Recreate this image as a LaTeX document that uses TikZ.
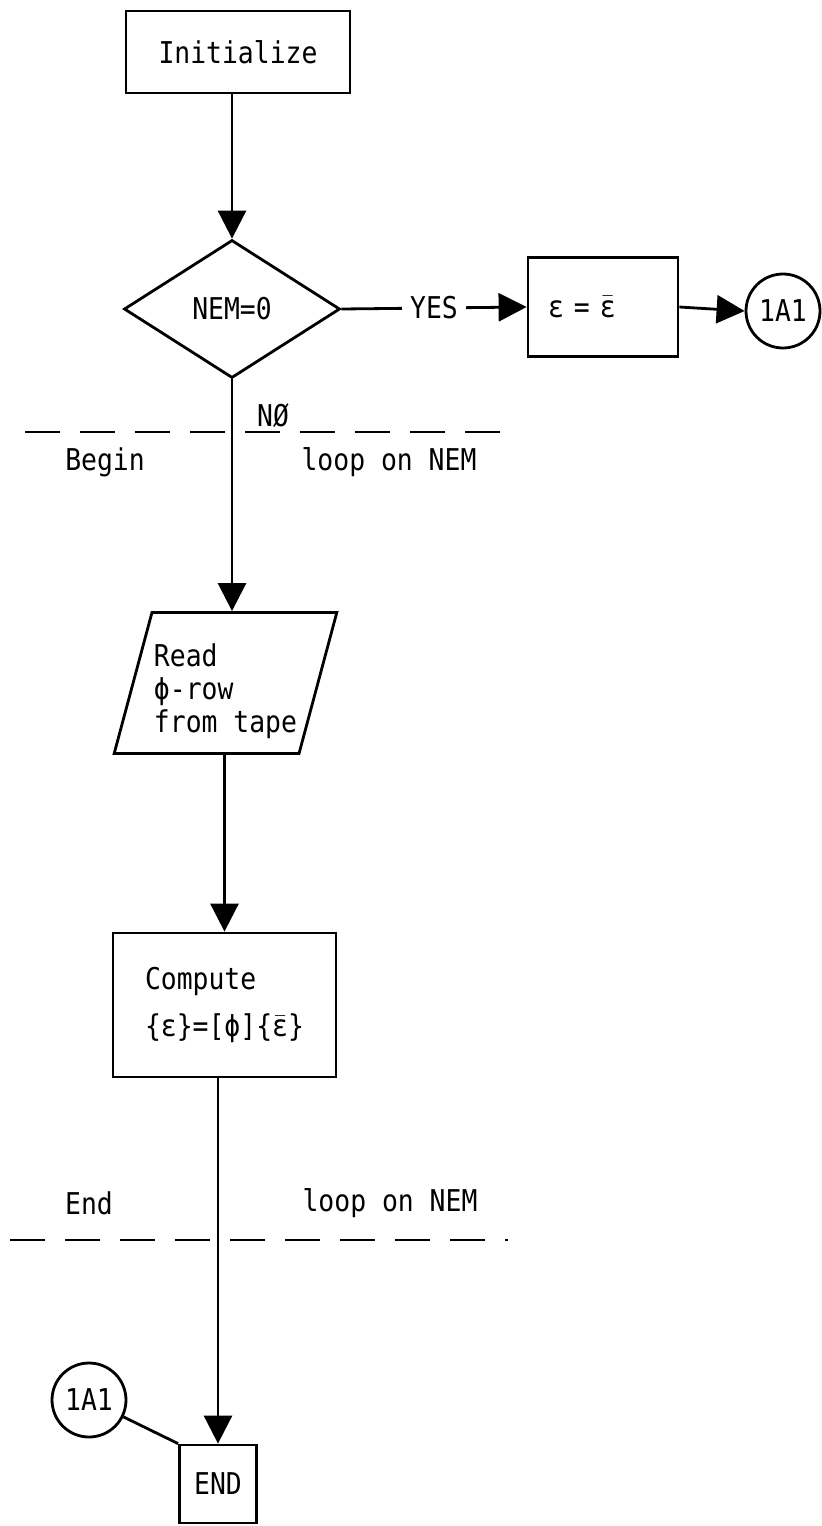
\documentclass[tikz,border=0pt]{standalone}
\usepackage{fontspec}
\setmonofont{DejaVu Sans Mono}[FakeStretch=0.88]
\usepackage{tikz}
\usetikzlibrary{positioning, arrows.meta, shapes.geometric}
\newcommand{\epsbar}{$\bar{\hbox{ε}}$}
\tikzset{
    fctext/.style={font=\ttfamily\fontsize{15}{16.5}\selectfont},
    process/.style={draw, rectangle, line width=1.4pt, inner sep=0pt, fctext},
    decision/.style={draw, diamond, line width=1.4pt, inner sep=0pt, fctext},
    io/.style={draw, trapezium, trapezium left angle=75, trapezium right angle=105,
        line width=1.4pt, inner xsep=1pt, inner ysep=7.5pt, align=left, fctext},
    connector/.style={draw, circle, line width=1.4pt, minimum size=37pt, inner sep=0pt, fctext},
    flow/.style={-{Triangle[length=14pt, width=14pt]}, line width=1.4pt},
    loopmark/.style={line width=1.2pt, dash pattern=on 17.5pt off 10pt}
}

\begin{document}
\begin{tikzpicture}[x=0.5pt, y=-0.5pt]
\useasboundingbox (0,0) rectangle (822,1526);

% Nodes
\node[process, minimum width=112pt, minimum height=41pt] (init) at (238,52) {Initialize};
\node[decision, minimum width=108pt, minimum height=69pt] (nem) at (232,309) {NEM=0};
\node[process, minimum width=75pt, minimum height=49.5pt, text width=55pt,
    align=left, inner xsep=10pt] (eps) at (603,307) {ε = \epsbar};
\node[connector] (con1) at (783,311) {1A1};
\node[io] (read) at (225.5,683) {\rule{0pt}{19.4pt}Read\\ϕ-row\\from tape};
\node[process, minimum width=111.5pt, minimum height=72pt, align=left] (comp) at (224.5,1005)
    {Compute\\[7pt]\{ε\}=[ϕ]\{\epsbar\}};
\node[process, minimum width=38.5pt, minimum height=39pt] (fin) at (218,1484) {END};
\node[connector] (con2) at (89,1400) {1A1};

% Loop limits
\draw[loopmark] (25,432) -- (515,432);
\draw[loopmark] (10,1240) -- (508,1240);
\node[fctext] (nolbl) at (273,416) {NØ};
\node[fctext] (beginlbl) at (105,462) {Begin};
\node[fctext] (loop1) at (389,462) {loop on NEM};
\node[fctext] (endlbl) at (89,1203) {End};
\node[fctext] (loop2) at (390,1203) {loop on NEM};

% Flow lines
\draw[flow] (init.south -| nem.north) -- (nem.north);
\draw[flow] (nem.east) -- node[fctext, fill=white, inner xsep=4pt] (yes) {YES} (eps.west);
\draw[flow] (eps.east) -- (con1.west);
\draw[flow] (nem.south) -- (nem.south |- read.north);
\draw[flow] (read.south -| comp.north) -- (comp.north);
\draw[flow] (comp.south -| fin.north) -- (fin.north);
\draw[line width=1.4pt] (con2) -- (fin.north west);

\end{tikzpicture}
\end{document}
